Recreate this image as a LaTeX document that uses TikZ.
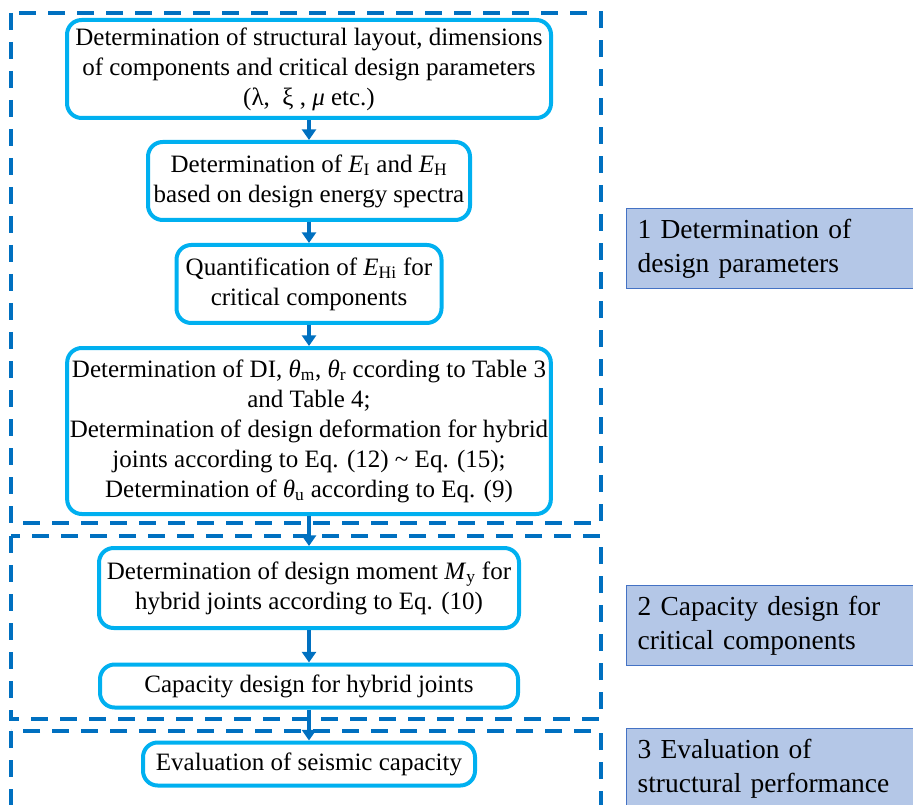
\documentclass[tikz,border=0pt]{standalone}
\usepackage{fontspec}
\setmainfont{Liberation Serif}
\usetikzlibrary{arrows.meta}
\definecolor{dblue}{RGB}{0,112,192}
\definecolor{cyanb}{RGB}{0,176,240}
\definecolor{labfill}{RGB}{180,199,231}
\definecolor{labdraw}{RGB}{68,114,196}
\begin{document}
\begin{tikzpicture}[x=0.75pt,y=-0.75pt,
 stage/.style={draw=dblue, line width=3pt, dash pattern=on 12.75pt off 9pt},
 proc/.style={draw=cyanb, line width=3pt, rounded corners=11pt, fill=white, align=center, inner sep=2pt, font=\fontsize{18.75}{22.5}\selectfont},
 lab/.style={draw=labdraw, fill=labfill, line width=1pt, anchor=north west, minimum width=220.5pt, minimum height=60pt, text width=204pt, align=left, inner xsep=8.25pt, font=\fontsize{20.6}{25}\selectfont},
 flow/.style={draw=dblue, line width=3pt, -{Triangle[width=10.5pt,length=8pt]}}]
\useasboundingbox (0,0) rectangle (913,805);
% stage frames
\draw[stage] (11,13) rectangle (601,523);
\draw[stage] (11,536) rectangle (601,719);
\draw[stage] (11,731) rectangle (601,808);
% process boxes
\node[proc, minimum width=363pt, minimum height=73.5pt] (B1) at (309,69)
 {Determination of structural layout, dimensions\\ of components and critical design parameters\\ (λ,~~ξ~,~\textit{μ} etc.)};
\node[proc, minimum width=241.5pt, minimum height=58.5pt] (B2) at (309,181)
 {Determination of \textit{E}\textsubscript{I} and \textit{E}\textsubscript{H}\\ based on design energy spectra};
\node[proc, minimum width=198.75pt, minimum height=58.5pt] (B3) at (309,284)
 {Quantification of \textit{E}\textsubscript{Hi} for\\ critical components};
\node[proc, minimum width=360pt, minimum height=124.5pt] (B4) at (309,431)
 {Determination of DI, \textit{θ}\textsubscript{m}, \textit{θ}\textsubscript{r} ccording to Table 3\\ and Table 4;\\ Determination of design deformation for hybrid\\ joints according to Eq. (12) \char`~{} Eq. (15);\\ Determination of \textit{θ}\textsubscript{u} according to Eq. (9)};
\node[proc, minimum width=315pt, minimum height=60pt] (B5) at (309,588)
 {Determination of design moment \textit{M}\textsubscript{y} for\\ hybrid joints according to Eq. (10)};
\node[proc, minimum width=313.5pt, minimum height=32.25pt] (B6) at (309,686)
 {Capacity design for hybrid joints};
\node[proc, minimum width=249pt, minimum height=32.25pt] (B7) at (309,764)
 {Evaluation of seismic capacity};
% arrows
\draw[flow] (B1.south) -- (B2.north);
\draw[flow] (B2.south) -- (B3.north);
\draw[flow] (B3.south) -- (B4.north);
\draw[flow] (B4.south) -- (B5.north);
\draw[flow] (B5.south) -- (B6.north);
\draw[flow] (B6.south) -- (B7.north);
% stage labels
\node[lab] (L1) at (626,208) {1 Determination of\\design parameters};
\node[lab] (L2) at (626,585) {2 Capacity design for\\critical components};
\node[lab] (L3) at (626,728) {3 Evaluation of\\structural performance};
\end{tikzpicture}
\end{document}
